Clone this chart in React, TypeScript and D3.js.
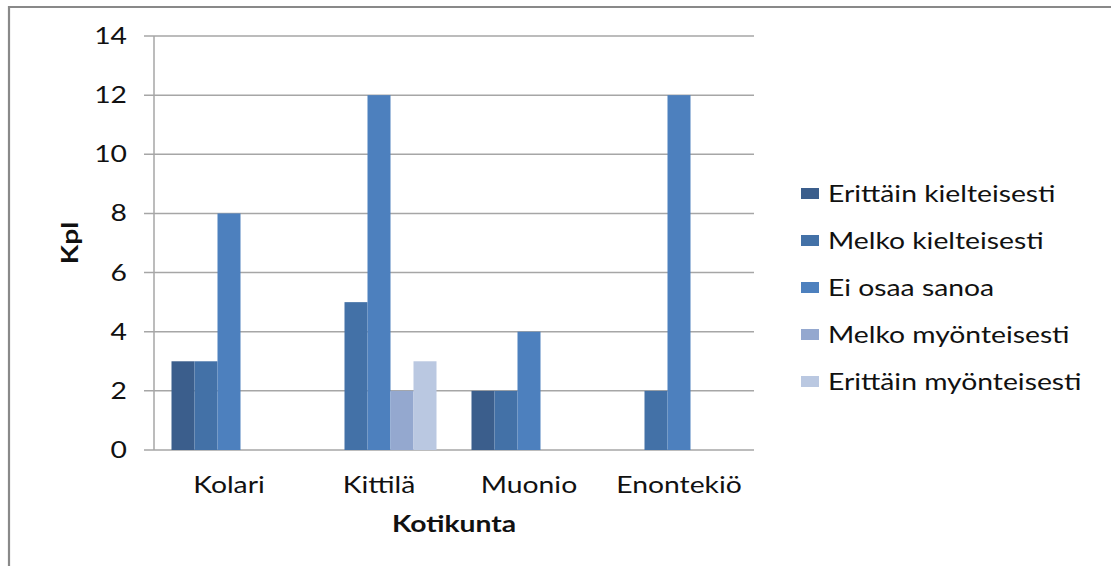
import React from "react";
import * as d3 from "d3";

const categories = ["Kolari", "Kittilä", "Muonio", "Enontekiö"];
const seriesNames = [
  "Erittäin kielteisesti",
  "Melko kielteisesti",
  "Ei osaa sanoa",
  "Melko myönteisesti",
  "Erittäin myönteisesti",
];
const erittainKielteisesti = [3, 0, 2, 0];
const melkoKielteisesti = [3, 5, 2, 2];
const eiOsaaSanoa = [8, 12, 4, 12];
const melkoMyonteisesti = [0, 2, 0, 0];
const erittainMyonteisesti = [0, 3, 0, 0];
const seriesValues = [
  erittainKielteisesti,
  melkoKielteisesti,
  eiOsaaSanoa,
  melkoMyonteisesti,
  erittainMyonteisesti,
];
const yTicks = [0, 2, 4, 6, 8, 10, 12, 14];
const colors = ["#3B5E8C", "#4371A7", "#4D80BE", "#94A8CF", "#BAC8E1"];

const W = 1111;
const H = 566;
const FONT = "Lato, 'Open Sans', sans-serif";
const SX = 1.23;
const FS = 23;

export default function App() {
  const left = 154, right = 754, top = 36, bottom = 450;
  const x0 = d3
    .scaleBand<string>()
    .domain(categories)
    .range([left, right])
    .paddingInner(0.2333)
    .paddingOuter(0.11667);
  const x1 = d3
    .scaleBand<string>()
    .domain(seriesNames)
    .range([0, x0.bandwidth()]);
  const y = d3.scaleLinear().domain([0, 14]).range([bottom, top]);

  const stretched = (
    key: string | number,
    tx: number,
    ty: number,
    text: string,
    anchor: string,
    size: number,
    weight: string | number = "normal",
    rotate = 0
  ) => (
    <text
      key={key}
      transform={`translate(${tx},${ty}) rotate(${rotate}) scale(${SX},1)`}
      textAnchor={anchor}
      fontFamily={FONT}
      fontSize={size}
      fontWeight={weight}
      fill="#111"
    >
      {text}
    </text>
  );

  return (
    <svg
      width={W}
      height={H}
      style={{ position: "absolute", left: 0, top: 0, background: "#fff" }}
    >
      <rect x={0} y={0} width={W} height={H} fill="#fff" />
      {/* outer chart border */}
      <path d={`M${W + 2},7 H9 V${H + 2}`} fill="none" stroke="#898989" strokeWidth={2.2} />

      {/* gridlines */}
      {yTicks.map((t) => (
        <line
          key={"g" + t}
          x1={left - 10}
          x2={right}
          y1={y(t)}
          y2={y(t)}
          stroke="#A6A6A6"
          strokeWidth={1.5}
        />
      ))}
      {/* y axis line */}
      <line x1={left} x2={left} y1={top} y2={bottom} stroke="#A6A6A6" strokeWidth={1.5} />

      {/* bars */}
      {seriesNames.map((s, si) =>
        categories.map((c, ci) => {
          const v = seriesValues[si][ci];
          if (!v) return null;
          return (
            <rect
              key={s + c}
              x={(x0(c) as number) + (x1(s) as number)}
              y={y(v)}
              width={x1.bandwidth()}
              height={y(0) - y(v)}
              fill={colors[si]}
            />
          );
        })
      )}

      {/* y tick labels */}
      {yTicks.map((t) =>
        stretched("yt" + t, 127, y(t) + 8, String(t), "end", FS)
      )}

      {/* x tick labels */}
      {categories.map((c) =>
        stretched("xt" + c, (x0(c) as number) + x0.bandwidth() / 2, 493, c, "middle", FS)
      )}

      {/* axis titles */}
      {stretched("xtitle", (left + right) / 2, 532, "Kotikunta", "middle", FS, "bold")}
      {stretched("ytitle", 78, (top + bottom) / 2, "Kpl", "middle", FS, "bold", -90)}

      {/* legend */}
      {seriesNames.map((s, i) => {
        const cy = 194 + i * 47;
        return (
          <g key={"lg" + s}>
            <rect x={801} y={cy - 6} width={18} height={11} fill={colors[i]} />
            {stretched("lt" + s, 828, cy + 8, s, "start", FS)}
          </g>
        );
      })}
    </svg>
  );
}
